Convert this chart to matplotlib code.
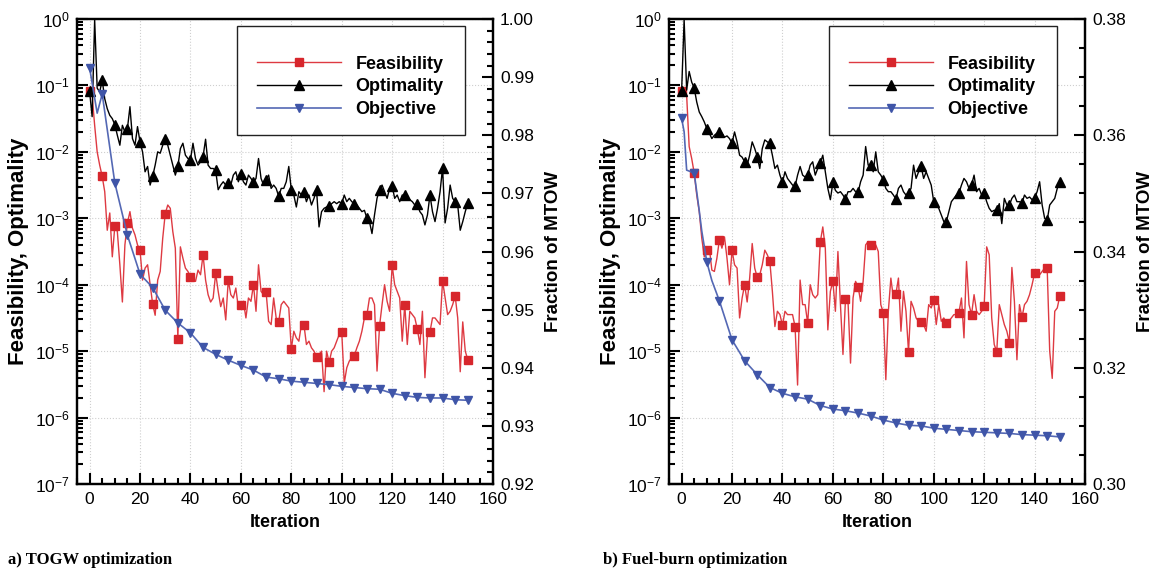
import numpy as np
import matplotlib
matplotlib.use('Agg')
import matplotlib.pyplot as plt
from matplotlib.patches import Rectangle
from matplotlib.ticker import MultipleLocator, LogLocator, NullFormatter, FormatStrFormatter

plt.rcParams['font.family'] = ['Liberation Sans', 'DejaVu Sans']
plt.rcParams['mathtext.fontset'] = 'custom'
plt.rcParams['mathtext.rm'] = 'Liberation Sans'
plt.rcParams['mathtext.it'] = 'Liberation Sans:italic'
plt.rcParams['mathtext.bf'] = 'Liberation Sans:bold'

iters = np.arange(151)

# TOGW run, log10 of feasibility and optimality at every iteration
togw_feas_log = [
    -1.09, -1.15, -1.6, -2.0, -2.2,
    -2.37, -2.6, -3.18, -2.92, -3.58,
    -3.12, -3.2, -3.7, -4.26, -3.4,
    -3.07, -2.9, -3.15, -3.25, -3.4,
    -3.48, -3.93, -3.75, -3.7, -4.0,
    -4.29, -4.46, -3.93, -3.8, -3.3,
    -2.93, -2.8, -2.85, -3.2, -3.45,
    -4.81, -3.43, -3.6, -3.75, -3.8,
    -3.88, -3.9, -3.95, -3.78, -3.85,
    -3.55, -3.93, -4.15, -4.26, -4.2,
    -3.83, -4.1, -4.33, -4.2, -4.53,
    -3.93, -4.15, -4.2, -4.05, -4.35,
    -4.31, -4.25, -4.5, -4.2, -4.25,
    -4.0, -4.4, -3.7, -4.1, -4.15,
    -4.11, -4.55, -4.6, -4.2, -4.5,
    -4.56, -4.3, -4.25, -4.3, -4.35,
    -4.97, -4.7, -4.8, -4.85, -4.6,
    -4.6, -4.9, -4.85, -4.95, -5.0,
    -5.09, -5.05, -5.0, -5.61, -5.0,
    -5.17, -5.0, -4.95, -4.85, -4.75,
    -4.71, -5.48, -5.25, -5.15, -5.1,
    -5.07, -4.95, -4.85, -4.7, -4.5,
    -4.45, -4.2, -4.2, -4.3, -5.3,
    -4.62, -4.3, -4.0, -4.25, -4.4,
    -3.71, -4.0, -4.1, -4.2, -4.85,
    -4.3, -4.9, -4.4, -4.45, -4.5,
    -4.67, -4.9, -4.4, -5.4, -4.75,
    -4.71, -4.5, -4.5, -4.55, -4.6,
    -3.94, -4.2, -4.45, -4.4, -4.3,
    -4.17, -4.5, -5.31, -4.56, -5.0,
    -5.13,
]
togw_opt_log = [
    -1.09, -1.47, -0.01, -1.04, -1.1,
    -0.92, -1.2, -1.35, -1.45, -1.5,
    -1.59, -1.75, -1.9, -1.6, -1.7,
    -1.65, -1.32, -1.8, -1.9, -1.62,
    -1.85, -2.0, -2.3, -2.22, -2.5,
    -2.37, -2.2, -2.0, -2.02, -1.9,
    -1.81, -1.9, -2.05, -2.2, -2.35,
    -2.22, -1.95, -1.87, -2.05, -2.1,
    -2.12, -1.87, -2.1, -2.2, -2.15,
    -2.07, -1.81, -2.2, -2.25, -2.25,
    -2.28, -2.57, -2.5, -2.45, -2.5,
    -2.47, -2.5, -2.35, -2.3, -2.45,
    -2.33, -2.45, -2.5, -2.35, -2.4,
    -2.46, -2.4, -2.1, -2.4, -2.5,
    -2.42, -2.35, -2.55, -2.5, -2.55,
    -2.67, -2.55, -2.55, -2.45, -2.22,
    -2.57, -2.65, -2.83, -2.6, -2.65,
    -2.6, -2.75, -2.65, -2.8, -2.7,
    -2.57, -3.13, -2.9, -2.85, -2.83,
    -2.82, -2.78, -2.75, -2.78, -2.75,
    -2.78, -2.65, -2.75, -2.7, -2.75,
    -2.78, -2.8, -2.85, -2.9, -2.88,
    -3.0, -3.05, -3.23, -2.95, -2.7,
    -2.57, -2.5, -2.6, -2.7, -2.55,
    -2.51, -2.7, -2.65, -2.75, -2.65,
    -2.65, -2.72, -2.72, -2.75, -2.8,
    -2.79, -2.9, -2.95, -3.1, -2.95,
    -2.65, -2.9, -3.05, -2.85, -2.6,
    -2.24, -3.07, -2.85, -2.5, -2.7,
    -2.75, -2.8, -3.18, -3.05, -2.9,
    -2.77,
]
togw_obj_iter = [0, 3, 5] + list(range(10, 151, 5))
togw_obj = [0.9916, 0.9838, 0.9871, 0.9718, 0.9628, 0.9561, 0.9538, 0.9499,
            0.9477, 0.9460, 0.9435, 0.9423, 0.9413, 0.9404, 0.9396, 0.9384,
            0.9381, 0.9377, 0.9375, 0.9373, 0.9371, 0.9368, 0.9366, 0.9364,
            0.9363, 0.9356, 0.9352, 0.9349, 0.9348, 0.9348, 0.9345, 0.9344]

# Fuel-burn run
fuel_feas_log = [
    -1.09, -1.1, -1.15, -1.92, -2.1,
    -2.32, -2.65, -2.9, -3.3, -3.58,
    -3.48, -3.45, -3.78, -3.8, -3.6,
    -3.32, -3.45, -3.28, -3.6, -4.0,
    -3.48, -3.7, -3.75, -4.5, -4.2,
    -4.0, -4.26, -3.9, -3.38, -3.75,
    -3.89, -3.85, -3.7, -3.48, -3.55,
    -3.65, -4.1, -4.63, -4.4, -4.45,
    -4.61, -4.4, -4.45, -4.45, -4.45,
    -4.63, -5.51, -3.93, -4.3, -4.3,
    -4.58, -4.0, -4.15, -4.2, -4.15,
    -3.36, -3.13, -3.45, -4.68, -4.1,
    -3.95, -4.4, -3.5, -4.3, -5.05,
    -4.22, -4.25, -5.18, -4.2, -3.95,
    -4.03, -4.25, -3.95, -3.4, -3.35,
    -3.40, -3.45, -3.4, -3.5, -4.3,
    -4.42, -5.43, -4.4, -3.9, -4.2,
    -4.14, -3.9, -4.7, -4.1, -4.4,
    -5.01, -4.25, -4.35, -4.5, -4.55,
    -4.56, -4.6, -4.7, -4.3, -4.35,
    -4.23, -4.6, -4.3, -4.55, -4.5,
    -4.58, -4.55, -4.5, -4.45, -4.45,
    -4.42, -4.2, -4.8, -3.65, -4.3,
    -4.45, -4.15, -4.4, -4.45, -4.4,
    -4.32, -3.43, -3.55, -4.5, -4.9,
    -5.01, -4.3, -4.45, -4.6, -4.7,
    -4.87, -3.74, -4.25, -5.13, -4.3,
    -4.49, -4.3, -4.25, -4.15, -4.0,
    -3.83, -3.83, -3.85, -3.8, -3.75,
    -3.75, -5.0, -5.41, -4.4, -4.35,
    -4.17,
]
fuel_opt_log = [
    -1.09, -0.01, -1.07, -0.79, -0.95,
    -1.04, -1.25, -1.4, -1.47, -1.55,
    -1.65, -1.72, -1.8, -1.75, -1.72,
    -1.70, -1.72, -1.78, -1.76, -1.8,
    -1.87, -1.7, -1.85, -2.05, -2.08,
    -2.15, -2.2, -2.05, -1.85, -1.95,
    -2.07, -2.25, -1.95, -1.82, -1.85,
    -1.87, -2.05, -2.25, -2.2, -2.35,
    -2.46, -2.3, -2.4, -2.45, -2.5,
    -2.52, -2.35, -2.22, -2.35, -2.38,
    -2.35, -2.2, -2.15, -2.35, -2.25,
    -2.17, -2.05, -2.3, -2.55, -2.72,
    -2.46, -2.58, -2.62, -2.6, -2.65,
    -2.71, -2.6, -2.6, -2.55, -2.6,
    -2.61, -2.45, -2.35, -1.92, -2.2,
    -2.2, -2.3, -2.0, -2.3, -2.35,
    -2.42, -2.55, -2.6, -2.6, -2.65,
    -2.71, -2.55, -2.5, -2.6, -2.65,
    -2.62, -2.55, -2.2, -2.4, -2.3,
    -2.22, -2.4, -2.3, -2.4, -2.5,
    -2.75, -2.8, -2.85, -2.95, -3.05,
    -3.05, -2.9, -2.75, -2.7, -2.65,
    -2.62, -2.5, -2.4, -2.45, -2.55,
    -2.5, -2.35, -2.6, -2.55, -2.65,
    -2.62, -2.75, -2.85, -2.9, -2.88,
    -2.88, -2.78, -3.08, -2.7, -2.8,
    -2.8, -2.7, -2.65, -2.75, -2.75,
    -2.77, -2.65, -2.7, -2.68, -2.72,
    -2.7, -2.6, -2.45, -2.8, -3.0,
    -3.03, -2.8, -2.75, -2.7, -2.55,
    -2.45,
]
fuel_obj_iter = [0, 1, 2, 5, 7, 8, 10, 12] + list(range(15, 151, 5))
fuel_obj = [0.3629, 0.3606, 0.3540, 0.3535, 0.3470, 0.3435, 0.3382, 0.3350,
            0.3315, 0.3248, 0.3212, 0.3188, 0.3166, 0.3156, 0.3150, 0.3146,
            0.3135, 0.3129, 0.3126, 0.3122, 0.3117, 0.3110, 0.3105, 0.3101,
            0.3100, 0.3096, 0.3094, 0.3092, 0.3090, 0.3089, 0.3088, 0.3087,
            0.3085, 0.3084, 0.3083, 0.3081]

RED = '#d7262c'
RED_LINE = '#de3a42'
BLUE = '#3f55a8'
BLUE_LINE = '#5468b4'


def style_axes(ax, ax2):
    for a in (ax, ax2):
        for sp in a.spines.values():
            sp.set_linewidth(1.6)
    ax.set_xlim(-5, 160)
    ax.set_yscale('log')
    ax.set_ylim(1e-7, 1e0)
    ax.xaxis.set_major_locator(MultipleLocator(20))
    ax.xaxis.set_minor_locator(MultipleLocator(5))
    ax.yaxis.set_major_locator(LogLocator(base=10, numticks=20))
    ax.yaxis.set_minor_locator(LogLocator(base=10, subs=np.arange(2, 10), numticks=20))
    ax.yaxis.set_minor_formatter(NullFormatter())
    ax.tick_params(which='both', direction='in', top=False, right=False, width=1.5,
                   labelsize=12.5)
    ax.tick_params(which='major', length=8)
    ax.tick_params(which='minor', length=4.5)
    ax.tick_params(axis='x', pad=6)
    ax.tick_params(axis='y', pad=5)
    ax.grid(True, which='major', ls=':', color='#cfcfcf', lw=0.8)
    ax2.tick_params(which='both', direction='in', width=1.5, labelsize=12.5, pad=5)
    ax2.tick_params(which='major', length=8)
    ax2.tick_params(which='minor', length=4.5)
    ax2.yaxis.set_major_formatter(FormatStrFormatter('%.2f'))
    ax.set_xlabel('Iteration', fontsize=13, fontweight='bold')
    ax.set_ylabel('Feasibility, Optimality', fontsize=16, fontweight='bold')
    ax2.set_ylabel('Fraction of MTOW', fontsize=13.5, fontweight='bold')
    ax.xaxis.set_label_coords(0.5, -0.064)
    ax.yaxis.set_label_coords(-0.115, 0.5)
    ax2.yaxis.set_label_coords(1.125, 0.5)


def draw_panel(rect, feas_log, opt_log, obj_iter, obj, flim, fmajor, fminor, caption, cap_x):
    ax = fig.add_axes(rect)
    ax2 = ax.twinx()
    l1, = ax.plot(iters, 10.0 ** np.array(feas_log), color=RED_LINE, lw=1.0,
                  marker='s', ms=6, markevery=5, mec=RED, mfc=RED, label='Feasibility')
    l2, = ax.plot(iters, 10.0 ** np.array(opt_log), color='black', lw=1.0,
                  marker='^', ms=6.5, markevery=5, label='Optimality')
    obj_marks = [i for i, it in enumerate(obj_iter) if it % 5 == 0]
    l3, = ax2.plot(obj_iter, obj, color=BLUE_LINE, lw=1.2, marker='v', ms=6,
                   mec=BLUE, mfc=BLUE, markevery=obj_marks, label='Objective')
    ax2.set_ylim(*flim)
    ax2.yaxis.set_major_locator(MultipleLocator(fmajor))
    ax2.yaxis.set_minor_locator(MultipleLocator(fminor))
    style_axes(ax, ax2)

    # legend box with some empty space above the entries
    ax2.add_patch(Rectangle((0.385, 0.7505), 0.548, 0.2345, transform=ax2.transAxes,
                            facecolor='white', edgecolor='#222222', lw=1.0, zorder=5))
    leg = ax2.legend([l1, l2, l3], ['Feasibility', 'Optimality', 'Objective'],
                     loc='upper left', bbox_to_anchor=(0.4327, 0.921), frameon=False,
                     borderpad=0, borderaxespad=0, handlelength=4.65, handletextpad=0.8,
                     labelspacing=0.31, numpoints=1,
                     prop=dict(weight='bold', size=13))
    leg.set_zorder(6)
    fig.text(cap_x, 1 - 564 / 569, caption, family='Liberation Serif',
             fontweight='bold', fontsize=12, va='baseline', ha='left')


fig = plt.figure(figsize=(11.58, 5.69), dpi=100)

draw_panel([77 / 1158, 85 / 569, 416 / 1158, 465 / 569], togw_feas_log, togw_opt_log,
           togw_obj_iter, togw_obj, (0.92, 1.00), 0.01, 0.002,
           'a) TOGW optimization', 8 / 1158)
draw_panel([669 / 1158, 85 / 569, 416 / 1158, 465 / 569], fuel_feas_log, fuel_opt_log,
           fuel_obj_iter, fuel_obj, (0.30, 0.38), 0.02, 0.005,
           'b) Fuel-burn optimization', 603 / 1158)

fig.savefig('out.png', dpi=100)
